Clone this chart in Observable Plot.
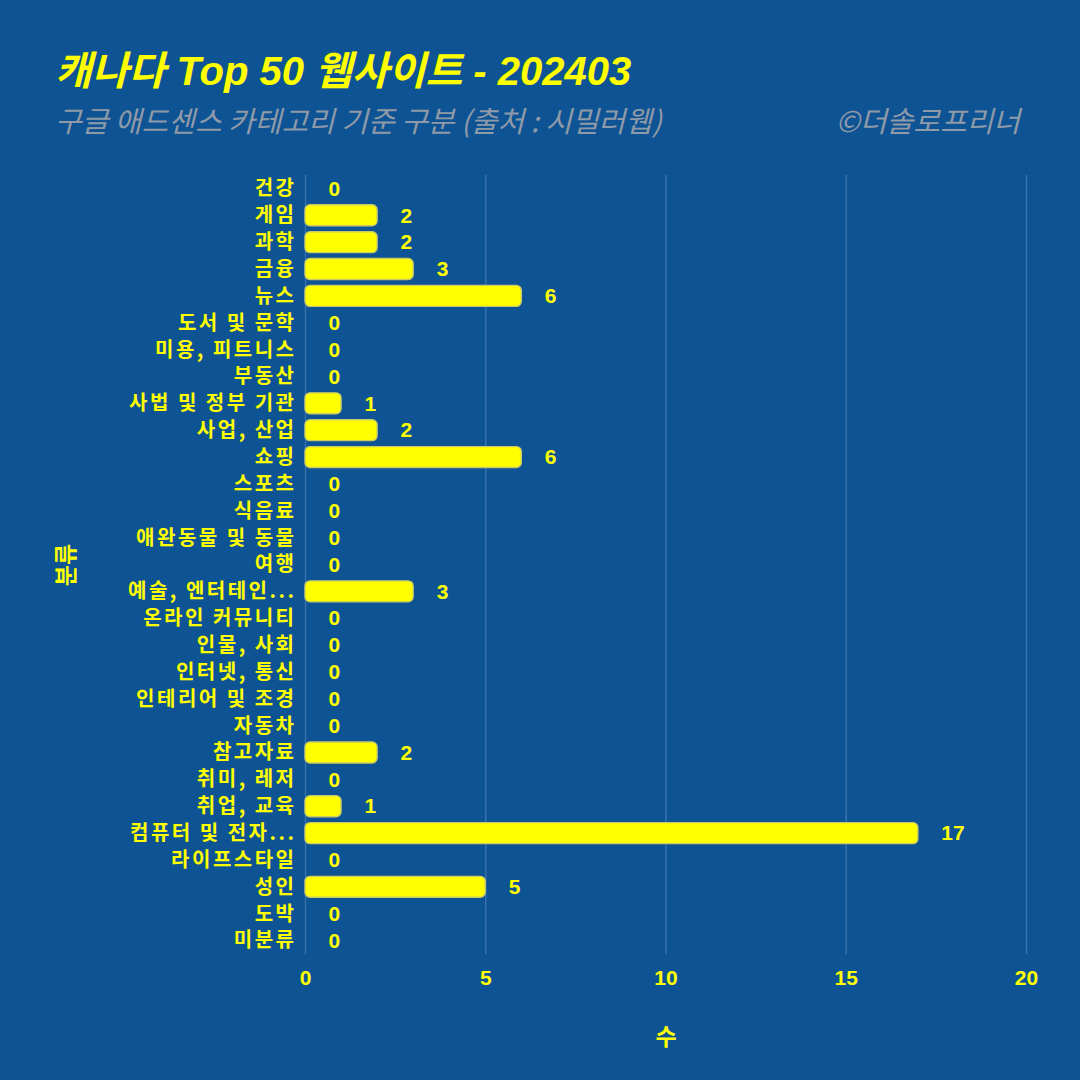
<!DOCTYPE html>
<html>
<head>
<meta charset="utf-8">
<script src="https://cdn.jsdelivr.net/npm/d3@7"></script>
<script src="https://cdn.jsdelivr.net/npm/@observablehq/plot@0.6"></script>
<style>
  html, body { margin: 0; padding: 0; background: #0e5394; }
  body { width: 1080px; height: 1080px; overflow: hidden; font-family: "Liberation Sans", "Noto Sans CJK KR", sans-serif; }
  #head { position: relative; height: 150px; }
  #title { position: absolute; left: 55px; top: 48px; font-size: 40px; line-height: 46px; font-weight: bold; font-style: italic; color: #ffff00; white-space: nowrap; }
  #sub { position: absolute; left: 55px; top: 101px; font-size: 29px; line-height: 36px; font-style: italic; color: #8f9aa8; white-space: nowrap; font-family: "Noto Sans CJK KR", sans-serif; }
  #cap { position: absolute; right: 60px; top: 101px; font-size: 29px; line-height: 36px; font-style: italic; color: #8f9aa8; white-space: nowrap; font-family: "Noto Sans CJK KR", sans-serif; }
</style>
</head>
<body>
<div id="head">
  <div id="title">캐나다 Top 50 웹사이트 - 202403</div>
  <div id="sub">구글 애드센스 카테고리 기준 구분 (출처 : 시밀러웹)</div>
  <div id="cap">©더솔로프리너</div>
</div>
<div id="chart"></div>
<script>
const categories = ["건강","게임","과학","금융","뉴스","도서 및 문학","미용, 피트니스","부동산","사법 및 정부 기관","사업, 산업","쇼핑","스포츠","식음료","애완동물 및 동물","여행","예술, 엔터테인...","온라인 커뮤니티","인물, 사회","인터넷, 통신","인테리어 및 조경","자동차","참고자료","취미, 레저","취업, 교육","컴퓨터 및 전자...","라이프스타일","성인","도박","미분류"];
const counts = [0,2,2,3,6,0,0,0,1,2,6,0,0,0,0,3,0,0,0,0,0,2,0,1,17,0,5,0,0];
const xTicks = [0,5,10,15,20];

const data = categories.map((c, i) => ({category: c, count: counts[i]}));
const yellow = "#ffff00";
const numFont = "'Liberation Sans', Arial, sans-serif";

const chart = Plot.plot({
  width: 1080,
  height: 930,
  marginTop: 25,
  marginBottom: 126,
  marginLeft: 305,
  marginRight: 54,
  style: {background: "transparent", fontFamily: "'Noto Sans CJK KR', sans-serif", color: yellow},
  x: {domain: [0, 20], ticks: xTicks},
  y: {domain: categories, paddingInner: 0.22, paddingOuter: 0.11, round: false},
  marks: [
    Plot.gridX(xTicks, {stroke: "#5a8cc0", strokeOpacity: 0.55, strokeWidth: 1.5}),
    Plot.barX(data, {x: "count", y: "category", fill: yellow, stroke: "#cccc66", strokeWidth: 1.4, rx: 5}),
    Plot.text(data, {x: "count", y: "category", text: d => String(d.count), dx: 23, textAnchor: "start", fill: yellow, fontWeight: "bold", fontSize: 21, fontFamily: numFont}),
    Plot.axisY({tickSize: 0, tickPadding: 9, fontSize: 20, fontWeight: "bold", fill: yellow, label: "분류", labelAnchor: "center", labelOffset: 248, labelArrow: "none"}),
    Plot.axisX(xTicks, {tickSize: 0, tickPadding: 16, fontSize: 21, fontWeight: "bold", fontFamily: numFont, fill: yellow, label: "수", labelAnchor: "center", labelOffset: 90, labelArrow: "none"})
  ]
});
document.getElementById("chart").appendChild(chart);
chart.querySelectorAll("[aria-label='y-axis tick label'] text").forEach(t => {
  t.style.letterSpacing = "2.5px";
});
chart.querySelectorAll("[aria-label='y-axis label'] text, [aria-label='x-axis label'] text").forEach(t => {
  t.setAttribute("font-size", "23"); t.setAttribute("font-weight", "bold");
  t.setAttribute("font-family", "'Noto Sans CJK KR', sans-serif");
});
</script>
</body>
</html>
